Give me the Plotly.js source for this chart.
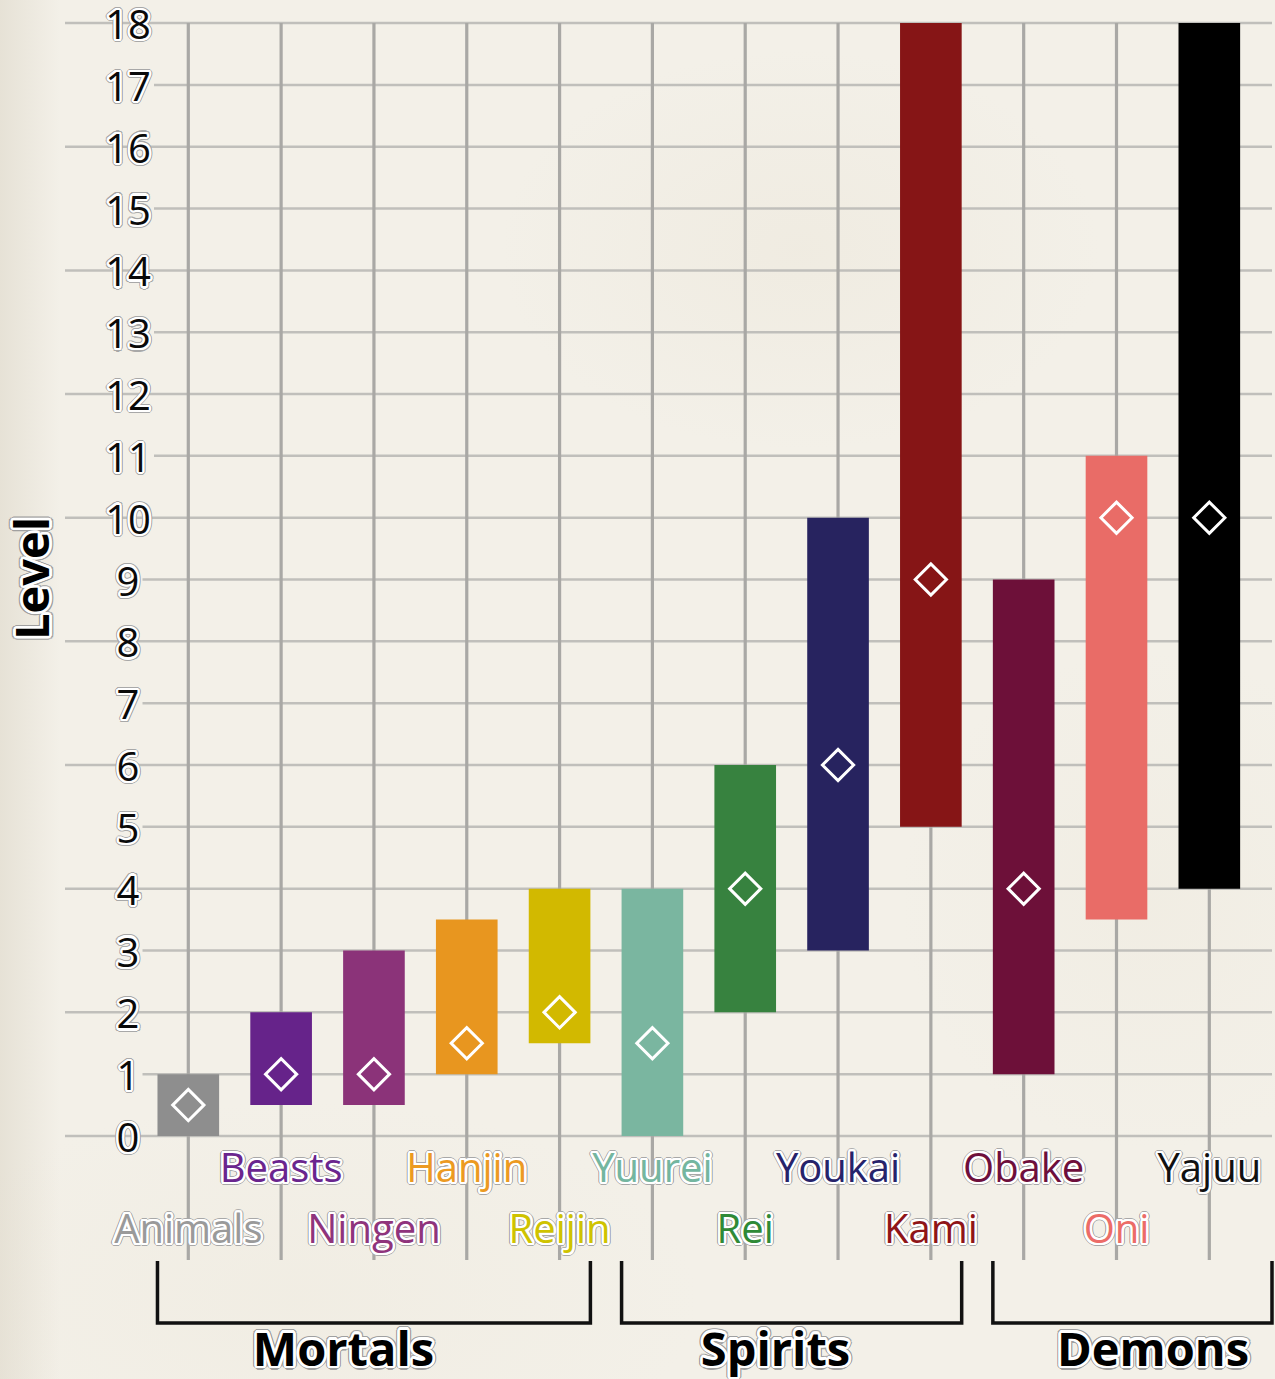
<!DOCTYPE html>
<html>
<head>
<meta charset="utf-8">
<script src="https://cdn.plot.ly/plotly-3.0.1.min.js"></script>
<style>
  html, body { margin: 0; padding: 0; }
  body {
    width: 1275px; height: 1379px; overflow: hidden;
    background-color: #f3f0e8;
    background-image:
      linear-gradient(to right, rgba(215,208,192,0.45) 0px, rgba(215,208,192,0) 60px),
      radial-gradient(ellipse 300px 200px at 800px 250px, rgba(230,222,205,0.25), rgba(230,222,205,0) 100%),
      radial-gradient(ellipse 250px 250px at 1150px 900px, rgba(232,225,208,0.2), rgba(232,225,208,0) 100%),
      radial-gradient(ellipse 400px 200px at 300px 1300px, rgba(232,225,208,0.2), rgba(232,225,208,0) 100%);
  }
  #chart { width: 1275px; height: 1379px; }
</style>
</head>
<body>
<div id="chart"></div>
<script>
// ---------------- data ----------------
const categories   = ['Animals','Beasts','Ningen','Hanjin','Reijin','Yuurei','Rei','Youkai','Kami','Obake','Oni','Yajuu'];
const levelMin     = [0, 0.5, 0.5, 1, 1.5, 0, 2, 3, 5, 1, 3.5, 4];
const levelMax     = [1, 2, 3, 3.5, 4, 4, 6, 10, 18, 9, 11, 18];
const levelTypical = [0.5, 1, 1, 1.5, 2, 1.5, 4, 6, 9, 4, 10, 10];
const barColors    = ['#8e8e8e','#66238a','#8b3379','#e8961f','#d2b900','#7ab6a0','#37823f','#27235f','#861516','#6d1039','#e96c67','#000000'];
const labelColors  = ['#9a9a9a','#6a258e','#8f347c','#ec9a22','#cfc300','#74b6a0','#2f8a37','#26236a','#8f1518','#6e0f3c','#ec6c68','#111111'];
const groups       = ['Mortals','Spirits','Demons'];
const groupFirst   = [0, 5, 9];
const groupLast    = [4, 8, 11];
const levelTicks   = [0,1,2,3,4,5,6,7,8,9,10,11,12,13,14,15,16,17,18];

// ---------------- geometry helpers (pixel layout -> data coords) ----------------
const X0PX = 188.3, XSTEP = 92.82;   // category 0 center, spacing
const Y0PX = 1136, YSTEP = 61.83;    // level 0 line, spacing
const W = 1275, H = 1379;
const px2x = p => (p - X0PX) / XSTEP;
const px2y = p => (Y0PX - p) / YSTEP;

const barWidth = 0.664;
const idx = categories.map((_, i) => i);

function halo(r1, c1, r2, c2) {
  const out = [];
  const n = 16;
  for (let k = 0; k < n; k++) {
    const a = 2 * Math.PI * k / n;
    out.push((r1 * Math.cos(a)).toFixed(2) + 'px ' + (r1 * Math.sin(a)).toFixed(2) + 'px 0 ' + c1);
  }
  for (let k = 0; k < n; k++) {
    const a = 2 * Math.PI * k / n;
    out.push((r2 * Math.cos(a)).toFixed(2) + 'px ' + (r2 * Math.sin(a)).toFixed(2) + 'px 0 ' + c2);
  }
  return out.join(', ');
}
const haloSmall = halo(2.2, '#ffffff', 3.3, '#a8a8a8');
const haloBig = halo(2.6, '#ffffff', 3.8, '#a0a0a0');

// ---------------- shapes: grid + brackets ----------------
const shapes = [];
const gridRight = px2x(1272);
levelTicks.forEach(t => {
  const lbl = String(t);
  const startPx = (t % 2 === 0) ? 65 : 128 + lbl.length * 11.5 + 3;
  shapes.push({type:'line', layer:'below', xref:'x', yref:'y',
    x0: px2x(startPx), x1: gridRight, y0: t, y1: t,
    line:{color:'#c0bfbb', width:2.5}});
});
idx.forEach(i => {
  shapes.push({type:'line', layer:'below', xref:'x', yref:'y',
    x0: i, x1: i, y0: px2y(1260), y1: levelTicks[levelTicks.length - 1],
    line:{color:'#a9a8a5', width:3.2}});
});
const brTop = px2y(1261), brBot = px2y(1323);
groups.forEach((g, k) => {
  const xl = groupFirst[k] - barWidth / 2;
  const xr = (k === groups.length - 1) ? gridRight : groupLast[k] + barWidth / 2;
  shapes.push({type:'path', layer:'above', xref:'x', yref:'y',
    path: `M ${xl},${brTop} L ${xl},${brBot} L ${xr},${brBot} L ${xr},${brTop}`,
    line:{color:'#111111', width:3.5}});
});

// ---------------- traces ----------------
const traces = [];
traces.push({
  type:'bar', x: idx, base: levelMin,
  y: levelMax.map((v, i) => v - levelMin[i]),
  width: barWidth, marker:{color: barColors, line:{width:0}},
  hoverinfo:'skip'
});
traces.push({
  type:'scatter', mode:'markers', x: idx, y: levelTypical,
  marker:{symbol:'diamond-open', size:24, color:'#ffffff', line:{color:'#ffffff', width:3}},
  hoverinfo:'skip'
});
// tick labels (drawn slightly below their grid line, as in the reference)
const tickShift = 6 / YSTEP;
traces.push({
  type:'scatter', mode:'text', x: levelTicks.map(() => px2x(128)), y: levelTicks.map(t => t - tickShift),
  text: levelTicks.map(String), textposition:'middle center',
  textfont:{family:'Open Sans, sans-serif', size:40, color:'#0a0a0a', shadow: haloSmall},
  hoverinfo:'skip'
});
// category labels (alternating rows)
const rowUpper = px2y(1172), rowLower = px2y(1233);
traces.push({
  type:'scatter', mode:'text', x: idx,
  y: idx.map(i => (i % 2 === 1) ? rowUpper : rowLower),
  text: categories, textposition:'middle center',
  textfont:{family:'Open Sans, sans-serif', size:40, color: labelColors, shadow: haloSmall},
  hoverinfo:'skip'
});
// group labels
const groupLabelPx = [343.5, 775.5, 1153];
traces.push({
  type:'scatter', mode:'text', x: groupLabelPx.map(px2x),
  y: groups.map(() => px2y(1354)),
  text: groups, textposition:'middle center',
  textfont:{family:'Open Sans, sans-serif', size:47, weight:700, color:'#000000', shadow: haloBig},
  hoverinfo:'skip'
});

const layout = {
  width: W, height: H,
  margin:{l:0, r:0, t:0, b:0, pad:0},
  paper_bgcolor:'rgba(0,0,0,0)', plot_bgcolor:'rgba(0,0,0,0)',
  showlegend:false,
  xaxis:{range:[px2x(0), px2x(W)], visible:false, fixedrange:true},
  yaxis:{range:[px2y(H), px2y(0)], visible:false, fixedrange:true},
  shapes: shapes,
  annotations:[{
    xref:'x', yref:'y', x: px2x(31), y: px2y(579), text:'Level', showarrow:false,
    textangle:-90, xanchor:'center', yanchor:'middle',
    font:{family:'Open Sans, sans-serif', size:47, weight:700, color:'#000000', shadow: haloBig}
  }]
};

Plotly.newPlot('chart', traces, layout, {displayModeBar:false, staticPlot:true});
</script>
</body>
</html>
